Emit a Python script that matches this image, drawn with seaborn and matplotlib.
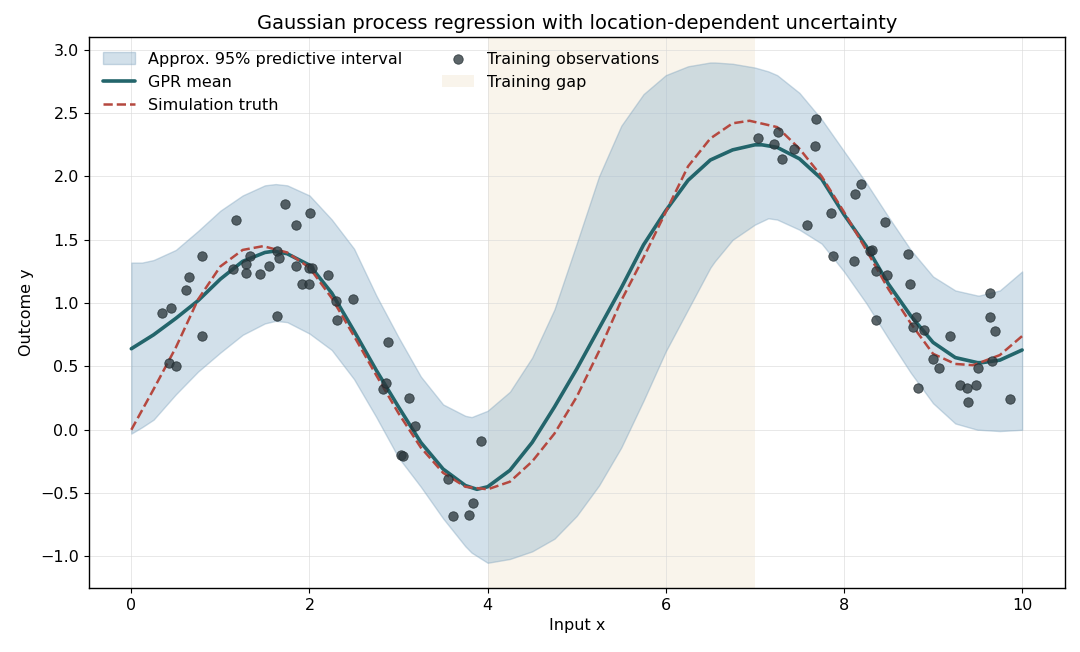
import numpy as np
import pandas as pd
import matplotlib
matplotlib.use("Agg")
import matplotlib.pyplot as plt
import seaborn as sns

# GPR mean (x, y)
mean_x = [0.00, 0.25, 0.50, 0.75, 1.00, 1.25, 1.50, 1.60, 1.75, 2.00, 2.25,
          2.50, 2.75, 3.00, 3.25, 3.50, 3.75, 3.88, 4.00, 4.25, 4.50, 4.75,
          5.00, 5.25, 5.50, 5.75, 6.00, 6.25, 6.50, 6.75, 7.00, 7.08, 7.25,
          7.50, 7.75, 8.00, 8.25, 8.50, 8.75, 9.00, 9.25, 9.50, 9.55, 9.75, 10.00]
mean_y = [0.64, 0.75, 0.88, 1.02, 1.19, 1.33, 1.40, 1.41, 1.39, 1.30, 1.08,
          0.78, 0.47, 0.18, -0.10, -0.31, -0.44, -0.47, -0.45, -0.32, -0.10, 0.18,
          0.48, 0.80, 1.12, 1.46, 1.73, 1.97, 2.13, 2.21, 2.25, 2.25, 2.23,
          2.14, 1.98, 1.70, 1.45, 1.15, 0.90, 0.69, 0.57, 0.53, 0.53, 0.55, 0.63]

# simulation truth
truth_x = [0.00, 0.25, 0.50, 0.75, 1.00, 1.25, 1.48, 1.75, 2.00, 2.25,
           2.50, 2.75, 3.00, 3.25, 3.50, 3.75, 4.00, 4.25, 4.50, 4.75,
           5.00, 5.25, 5.50, 5.75, 6.00, 6.25, 6.50, 6.75, 6.94, 7.25,
           7.50, 7.75, 8.00, 8.25, 8.50, 8.75, 9.00, 9.25, 9.45, 9.75, 10.00]
truth_y = [0.00, 0.32, 0.65, 1.03, 1.29, 1.42, 1.45, 1.40, 1.28, 1.04,
           0.74, 0.43, 0.13, -0.14, -0.34, -0.45, -0.47, -0.41, -0.25, -0.03,
           0.26, 0.62, 1.02, 1.36, 1.72, 2.08, 2.30, 2.42, 2.44, 2.39,
           2.22, 2.00, 1.72, 1.42, 1.11, 0.84, 0.60, 0.52, 0.51, 0.59, 0.74]

# predictive interval edges
band_x = [0.00, 0.12, 0.25, 0.50, 0.75, 1.00, 1.25, 1.50, 1.62, 1.75, 2.00, 2.25,
          2.50, 2.75, 3.00, 3.25, 3.50, 3.75, 3.82, 4.00, 4.25, 4.50, 4.75,
          5.00, 5.25, 5.50, 5.75, 6.00, 6.25, 6.50, 6.55, 6.75, 7.00, 7.15, 7.25,
          7.50, 7.75, 8.00, 8.25, 8.50, 8.75, 9.00, 9.25, 9.50, 9.52, 9.75, 10.00]
band_upper = [1.32, 1.32, 1.34, 1.42, 1.57, 1.73, 1.85, 1.93, 1.94, 1.93, 1.85, 1.66,
              1.43, 1.06, 0.73, 0.42, 0.20, 0.11, 0.10, 0.15, 0.30, 0.57, 0.95,
              1.47, 2.00, 2.40, 2.65, 2.80, 2.87, 2.90, 2.90, 2.89, 2.86, 2.83, 2.80,
              2.66, 2.45, 2.20, 1.95, 1.68, 1.42, 1.21, 1.10, 1.06, 1.06, 1.10, 1.25]
band_lower = [-0.03, 0.02, 0.08, 0.28, 0.46, 0.61, 0.75, 0.84, 0.86, 0.85, 0.76, 0.63,
              0.40, 0.10, -0.22, -0.45, -0.70, -0.92, -0.97, -1.05, -1.02, -0.96, -0.86,
              -0.68, -0.44, -0.14, 0.23, 0.62, 0.95, 1.28, 1.33, 1.50, 1.62, 1.67, 1.66,
              1.58, 1.47, 1.25, 1.00, 0.72, 0.45, 0.21, 0.05, 0.00, 0.00, -0.01, 0.00]

obs_x = [0.34, 0.42, 0.45, 0.50, 0.61, 0.65, 0.79, 0.79, 1.14, 1.18,
         1.29, 1.29, 1.33, 1.45, 1.54, 1.64, 1.66, 1.64, 1.73, 1.85,
         1.85, 1.92, 1.99, 2.00, 2.03, 2.01, 2.21, 2.30, 2.31, 2.49,
         2.82, 2.86, 2.88, 3.03, 3.05, 3.12, 3.19, 3.56, 3.61, 3.79,
         3.84, 3.93,
         7.04, 7.22, 7.26, 7.31, 7.44, 7.59, 7.68, 7.69, 7.86, 7.88,
         8.11, 8.12, 8.19, 8.29, 8.31, 8.36, 8.36, 8.46, 8.48, 8.72,
         8.74, 8.78, 8.81, 8.83, 8.90, 9.00, 9.07, 9.19, 9.30, 9.38,
         9.39, 9.48, 9.50, 9.64, 9.64, 9.66, 9.69, 9.86]
obs_y = [0.92, 0.53, 0.96, 0.50, 1.10, 1.21, 1.37, 0.74, 1.27, 1.66,
         1.31, 1.24, 1.37, 1.23, 1.29, 1.41, 1.36, 0.90, 1.78, 1.62,
         1.29, 1.15, 1.15, 1.28, 1.28, 1.71, 1.22, 1.02, 0.87, 1.03,
         0.32, 0.37, 0.69, -0.20, -0.21, 0.25, 0.03, -0.39, -0.68, -0.67,
         -0.58, -0.09,
         2.30, 2.26, 2.35, 2.14, 2.22, 1.62, 2.24, 2.45, 1.71, 1.37,
         1.33, 1.86, 1.94, 1.41, 1.42, 1.25, 0.87, 1.64, 1.22, 1.39,
         1.15, 0.81, 0.89, 0.33, 0.79, 0.56, 0.49, 0.74, 0.35, 0.33,
         0.22, 0.35, 0.49, 1.08, 0.89, 0.54, 0.78, 0.24]

gap_start, gap_end = 4.0, 7.0

mean_df = pd.DataFrame({"x": mean_x, "y": mean_y})
truth_df = pd.DataFrame({"x": truth_x, "y": truth_y})
obs = pd.DataFrame({"x": obs_x, "y": obs_y})

sns.set_style("ticks")
plt.rcParams["font.family"] = ["DejaVu Sans"]
plt.rcParams.update({"text.color": "black", "axes.labelcolor": "black",
                     "xtick.color": "black", "ytick.color": "black"})

fig, ax = plt.subplots(figsize=(10.8, 6.52), dpi=100)
fig.subplots_adjust(left=0.082, right=0.986, top=0.943, bottom=0.098)

ax.fill_between(band_x, band_lower, band_upper,
                facecolor="#8fb3cc", edgecolor="#7fa3bd", alpha=0.4,
                linewidth=1.0, label="Approx. 95% predictive interval", zorder=1)
sns.lineplot(data=mean_df, x="x", y="y", ax=ax, color="#23656b",
             linewidth=2.6, label="GPR mean", zorder=3, sort=False)
sns.lineplot(data=truth_df, x="x", y="y", ax=ax, color="#b5483f",
             linewidth=1.8, linestyle="--", label="Simulation truth", zorder=4,
             sort=False)
sns.scatterplot(data=obs, x="x", y="y", ax=ax, color="#2e3a3f", alpha=0.78,
                s=46, edgecolor="#1f2a2e", linewidth=0.6,
                label="Training observations", zorder=5)
ax.axvspan(gap_start, gap_end, color="#ecdcc0", alpha=0.3, linewidth=0,
           label="Training gap", zorder=0)

ax.set_xlim(-0.48, 10.48)
ax.set_ylim(-1.25, 3.1)
ax.set_xticks([0, 2, 4, 6, 8, 10])
ax.set_yticks([-1.0, -0.5, 0.0, 0.5, 1.0, 1.5, 2.0, 2.5, 3.0])
ax.grid(True, color="#d9d9d9", linewidth=0.7, alpha=0.6)
ax.set_axisbelow(True)
for sp in ax.spines.values():
    sp.set_visible(True)
    sp.set_color("black")
    sp.set_linewidth(1.0)
ax.tick_params(labelsize=11.5)

ax.set_title("Gaussian process regression with location-dependent uncertainty",
             fontsize=14)
ax.set_xlabel("Input x", fontsize=11.5)
ax.set_ylabel("Outcome y", fontsize=11.5)

handles, labels = ax.get_legend_handles_labels()
order = ["Approx. 95% predictive interval", "GPR mean", "Simulation truth",
         "Training observations", "Training gap"]
hmap = dict(zip(labels, handles))
ax.legend([hmap[k] for k in order], order, loc="upper left", ncol=2,
          frameon=False, fontsize=11.5, columnspacing=2.5,
          borderaxespad=0.5, handlelength=2.0)

fig.savefig("out.png", dpi=100)
